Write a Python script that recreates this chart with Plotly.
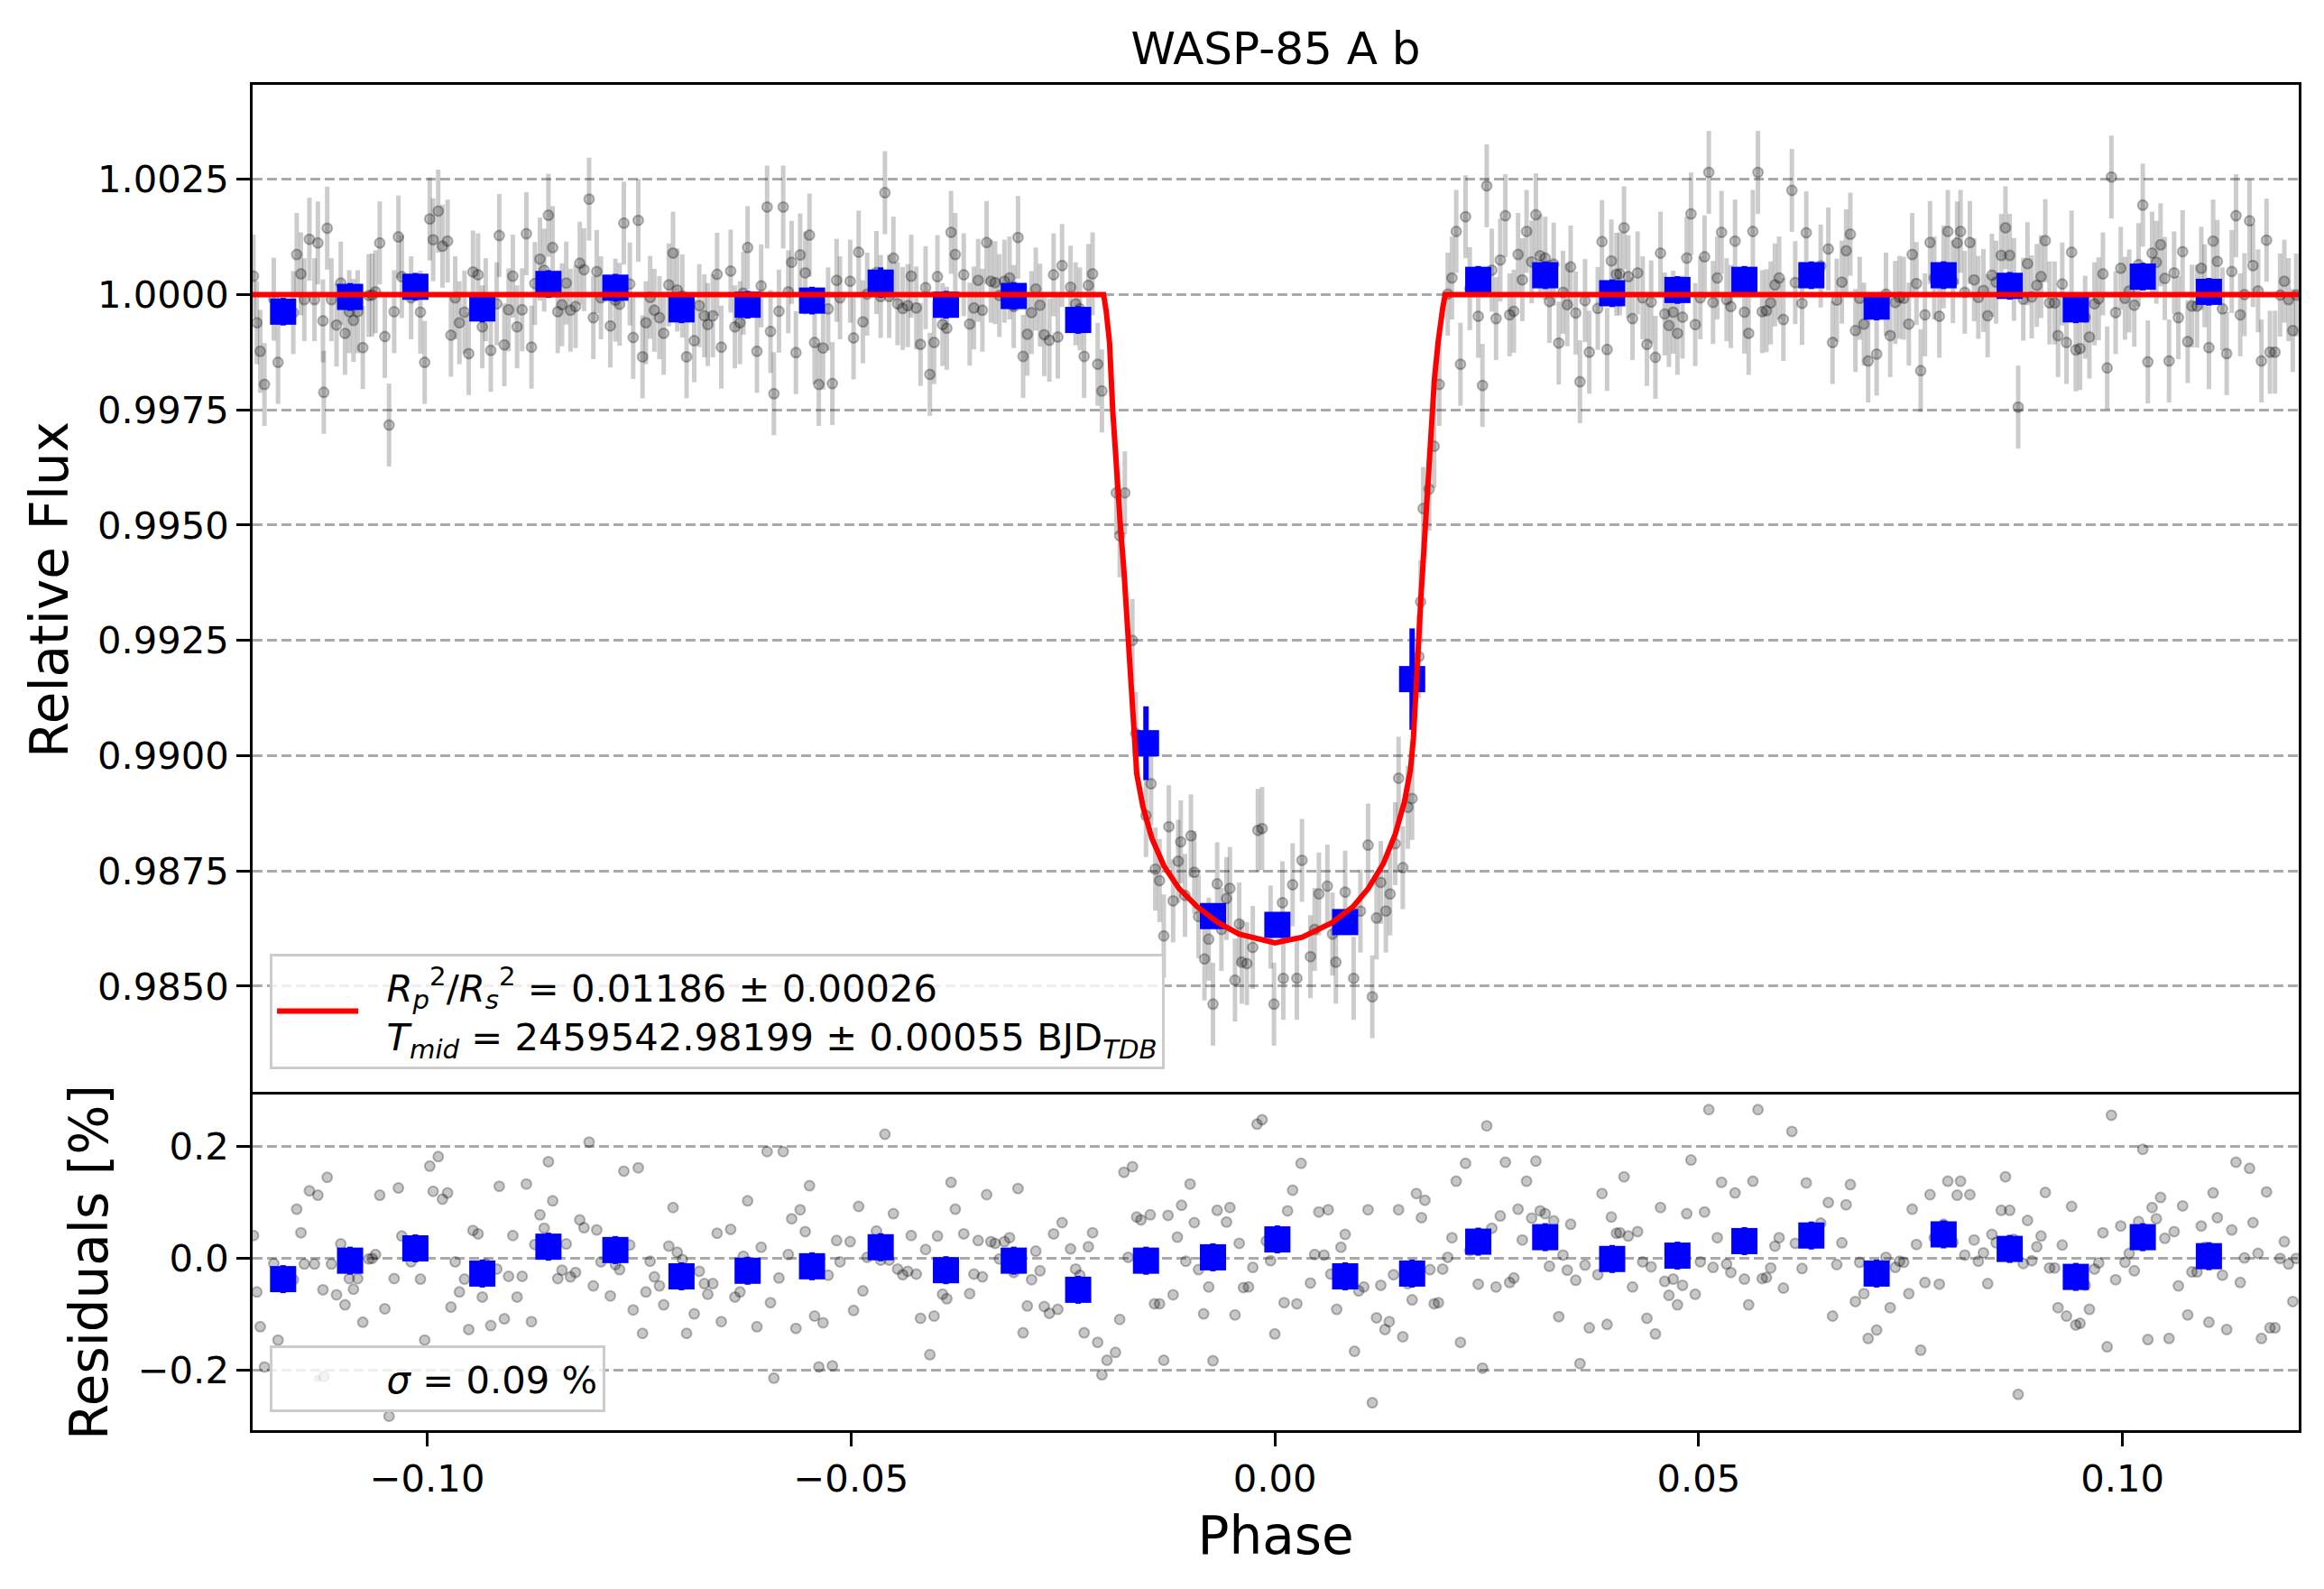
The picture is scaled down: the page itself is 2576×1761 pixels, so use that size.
import numpy as np
import plotly.graph_objects as go
from plotly.subplots import make_subplots

# ---- residuals of every exposure (phase, residual in %) ----
phase_a = [-0.1205, -0.1201, -0.1197, -0.1192, -0.1181, -0.1176, -0.1158, -0.1154, -0.1149, -0.1145,
           -0.1139, -0.1133, -0.1129, -0.1123, -0.1122, -0.1118, -0.1113, -0.1107, -0.1102, -0.1097,
           -0.1092, -0.1087, -0.1082, -0.1076, -0.1069, -0.1065, -0.1061, -0.1056, -0.1050, -0.1045,
           -0.1039, -0.1034, -0.1030, -0.1019, -0.1008, -0.1003, -0.0997, -0.0993, -0.0987, -0.0982,
           -0.0976, -0.0972, -0.0967, -0.0962, -0.0956, -0.0951, -0.0946, -0.0940, -0.0935, -0.0931,
           -0.0925, -0.0918, -0.0915, -0.0909, -0.0904, -0.0899, -0.0894, -0.0888, -0.0883, -0.0877,
           -0.0873, -0.0867, -0.0862, -0.0857, -0.0852, -0.0846, -0.0841, -0.0836, -0.0831, -0.0825,
           -0.0820, -0.0815, -0.0809, -0.0804, -0.0800, -0.0795, -0.0784, -0.0778, -0.0773, -0.0768,
           -0.0761, -0.0757, -0.0751, -0.0746, -0.0742, -0.0737, -0.0732, -0.0726, -0.0721, -0.0715,
           -0.0710, -0.0705, -0.0699, -0.0694, -0.0685, -0.0679, -0.0673, -0.0669, -0.0663, -0.0658,
           -0.0653, -0.0642, -0.0637, -0.0631, -0.0627, -0.0622, -0.0611, -0.0606]
resid_a = [0.040, -0.061, -0.123, -0.195, -0.010, -0.147, -0.039, 0.087, 0.045, -0.011,
           0.120, -0.011, 0.112, -0.057, -0.212, 0.144, -0.011, -0.066, 0.025, -0.084,
           -0.037, -0.056, -0.037, -0.115, -0.002, -0.001, 0.006, 0.112, -0.091, -0.283,
           -0.037, 0.125, 0.039, -0.007, -0.038, -0.147, 0.164, 0.119, 0.181, 0.105,
           0.116, -0.088, -0.007, -0.061, -0.038, -0.128, 0.049, 0.043, -0.070, -0.011,
           -0.121, -0.020, 0.128, -0.109, -0.033, 0.040, -0.070, -0.033, 0.132, -0.114,
           0.024, 0.077, 0.053, 0.172, 0.102, -0.037, -0.022, 0.025, -0.034, -0.026,
           0.068, 0.054, 0.207, -0.050, 0.050, -0.007, -0.068, -0.012, -0.021, 0.155,
           0.023, -0.093, 0.161, -0.135, -0.061, -0.006, -0.034, -0.050, -0.084, 0.021,
           0.090, 0.010, -0.003, -0.135, -0.100, -0.024, -0.046, -0.065, -0.046, 0.044,
           -0.114, 0.051, -0.070, -0.061, 0.003, 0.102, -0.123, 0.019]

phase_b = [-0.0599, -0.0595, -0.0591, -0.0585, -0.0580, -0.0574, -0.0570, -0.0565, -0.0560, -0.0554,
           -0.0549, -0.0543, -0.0538, -0.0533, -0.0527, -0.0522, -0.0517, -0.0513, -0.0501, -0.0497,
           -0.0491, -0.0486, -0.0481, -0.0470, -0.0465, -0.0460, -0.0455, -0.0450, -0.0445, -0.0439,
           -0.0433, -0.0429, -0.0423, -0.0418, -0.0412, -0.0407, -0.0402, -0.0398, -0.0392, -0.0387,
           -0.0382, -0.0377, -0.0367, -0.0360, -0.0355, -0.0350, -0.0345, -0.0340, -0.0335, -0.0330,
           -0.0325, -0.0319, -0.0313, -0.0308, -0.0303, -0.0297, -0.0292, -0.0287, -0.0282, -0.0277,
           -0.0272, -0.0266, -0.0261, -0.0256, -0.0251, -0.0241, -0.0235, -0.0230, -0.0225, -0.0220,
           -0.0215, -0.0209, -0.0204, -0.0198, -0.0188, -0.0183, -0.0178, -0.0173, -0.0168, -0.0163,
           -0.0158, -0.0152, -0.0147, -0.0142, -0.0136, -0.0131, -0.0126, -0.0120, -0.0115, -0.0110,
           -0.0105, -0.0100, -0.0095, -0.0090, -0.0084, -0.0078, -0.0073, -0.0068, -0.0057, -0.0053,
           -0.0047, -0.0042, -0.0037, -0.0031, -0.0026, -0.0021, -0.0015, -0.0010, -0.0005, 0.0000]
resid_b = [0.190, -0.080, -0.215, -0.036, 0.190, 0.006, 0.070, -0.126, 0.086, 0.047,
           0.129, -0.104, -0.195, -0.116, -0.031, -0.193, 0.031, -0.007, 0.029, -0.094,
           0.092, -0.059, 0.001, 0.048, -0.004, 0.221, -0.004, 0.079, -0.020, -0.030,
           -0.024, 0.040, -0.029, -0.108, 0.015, -0.173, -0.104, 0.039, -0.065, -0.073,
           0.135, 0.087, 0.043, -0.064, -0.029, 0.031, -0.034, 0.113, 0.029, 0.026,
           -0.002, 0.029, 0.036, -0.026, 0.124, -0.134, -0.086, -0.039, 0.012, -0.023,
           -0.087, -0.099, 0.043, -0.092, 0.063, 0.016, -0.020, -0.031, -0.134, 0.020,
           0.045, -0.151, -0.209, -0.183, -0.169, -0.110, 0.153, 0.001, 0.163, 0.073,
           0.068, -0.020, 0.077, -0.082, -0.082, -0.183, 0.076, -0.066, 0.037, 0.094,
           -0.006, 0.132, 0.063, -0.021, -0.100, -0.052, -0.184, 0.085, 0.064, 0.090,
           -0.102, 0.026, -0.053, -0.052, -0.017, 0.239, 0.247, 0.030, -0.005, -0.136]

phase_c = [0.0011, 0.0015, 0.0021, 0.0026, 0.0031, 0.0042, 0.0047, 0.0052, 0.0058, 0.0063,
           0.0066, 0.0073, 0.0078, 0.0083, 0.0094, 0.0099, 0.0105, 0.0110, 0.0115, 0.0120,
           0.0125, 0.0130, 0.0135, 0.0140, 0.0146, 0.0151, 0.0157, 0.0162, 0.0167, 0.0173,
           0.0177, 0.0183, 0.0188, 0.0193, 0.0198, 0.0204, 0.0209, 0.0214, 0.0219, 0.0225,
           0.0230, 0.0240, 0.0245, 0.0250, 0.0256, 0.0261, 0.0266, 0.0272, 0.0277, 0.0282,
           0.0287, 0.0292, 0.0297, 0.0303, 0.0308, 0.0313, 0.0319, 0.0324, 0.0329, 0.0335,
           0.0340, 0.0345, 0.0349, 0.0355, 0.0360, 0.0366, 0.0371, 0.0381, 0.0386, 0.0392,
           0.0397, 0.0403, 0.0407, 0.0412, 0.0417, 0.0422, 0.0428, 0.0434, 0.0439, 0.0444,
           0.0449, 0.0455, 0.0460, 0.0465, 0.0470, 0.0475, 0.0481, 0.0486, 0.0491, 0.0496,
           0.0502, 0.0507, 0.0512, 0.0517, 0.0522, 0.0527, 0.0533, 0.0538, 0.0543, 0.0554,
           0.0559, 0.0564, 0.0570, 0.0575, 0.0580, 0.0585, 0.0590, 0.0595, 0.0600, 0.0610,
           0.0614]
resid_c = [-0.080, 0.084, 0.121, -0.082, 0.169, -0.045, 0.006, 0.082, 0.005, 0.086,
           -0.029, -0.092, 0.019, 0.042, -0.167, -0.059, -0.052, 0.086, -0.259, -0.107,
           -0.049, -0.128, -0.114, -0.030, 0.086, -0.141, -0.046, -0.075, 0.115, 0.072,
           0.103, -0.021, -0.082, -0.080, -0.020, 0.001, 0.036, 0.137, -0.151, 0.169,
           0.013, -0.047, -0.197, 0.236, 0.053, -0.052, 0.075, 0.171, -0.044, -0.036,
           0.087, 0.032, 0.137, 0.071, 0.173, 0.084, 0.079, -0.015, 0.066, -0.105,
           0.005, -0.022, 0.060, -0.040, -0.189, -0.013, -0.125, -0.030, 0.115, -0.119,
           0.073, 0.044, 0.045, 0.145, 0.039, -0.052, 0.047, -0.007, -0.108, -0.016,
           -0.136, 0.090, -0.042, -0.067, -0.038, -0.084, -0.049, 0.079, 0.175, -0.065,
           -0.007, 0.082, 0.265, -0.017, 0.036, 0.135, -0.011, -0.026, 0.116, -0.038,
           -0.084, 0.137, 0.265, -0.037, -0.035, -0.018, 0.021, 0.036, -0.054, 0.226,
           0.026]

phase_d = [0.0622, 0.0627, 0.0644, 0.0653, 0.0658, 0.0663, 0.0669, 0.0674, 0.0679, 0.0685,
           0.0690, 0.0695, 0.0700, 0.0710, 0.0721, 0.0726, 0.0732, 0.0737, 0.0742, 0.0748,
           0.0752, 0.0757, 0.0762, 0.0767, 0.0773, 0.0778, 0.0784, 0.0789, 0.0794, 0.0800,
           0.0805, 0.0809, 0.0814, 0.0820, 0.0825, 0.0830, 0.0836, 0.0841, 0.0846, 0.0851,
           0.0857, 0.0862, 0.0867, 0.0872, 0.0877, 0.0883, 0.0888, 0.0893, 0.0899, 0.0904,
           0.0909, 0.0914, 0.0920, 0.0924, 0.0929, 0.0934, 0.0940, 0.0945, 0.0950, 0.0956,
           0.0961, 0.0967, 0.0972, 0.0977, 0.0982, 0.0987, 0.0992, 0.0998, 0.1003, 0.1008,
           0.1014, 0.1019, 0.1024, 0.1030, 0.1035, 0.1040, 0.1045, 0.1050, 0.1055, 0.1061,
           0.1066, 0.1071, 0.1077, 0.1082, 0.1088, 0.1093, 0.1097, 0.1102, 0.1107, 0.1112,
           0.1118, 0.1123, 0.1129, 0.1134, 0.1139, 0.1144, 0.1150, 0.1154, 0.1160, 0.1164,
           0.1170, 0.1174, 0.1180, 0.1186, 0.1191, 0.1196, 0.1201, 0.1205]
resid_d = [-0.019, 0.134, 0.062, 0.099, -0.104, -0.012, 0.027, 0.095, 0.131, -0.078,
           -0.008, -0.064, -0.144, -0.129, 0.001, -0.089, -0.017, -0.006, -0.008, -0.064,
           0.087, 0.024, -0.165, -0.044, 0.113, 0.036, -0.047, 0.060, 0.137, 0.028,
           0.112, 0.137, 0.005, 0.113, 0.032, -0.006, 0.009, -0.046, 0.042, 0.027,
           0.085, 0.145, 0.085, 0.033, -0.244, -0.010, 0.067, -0.005, 0.020, 0.039,
           0.117, -0.018, -0.018, -0.089, 0.023, -0.104, 0.092, -0.120, -0.117, -0.049,
           -0.092, -0.020, -0.009, 0.045, -0.159, 0.255, -0.039, 0.057, -0.008, 0.008,
           -0.023, 0.065, 0.194, -0.146, 0.090, 0.070, 0.108, 0.035, -0.144, 0.047,
           -0.050, 0.093, -0.102, -0.025, -0.025, 0.057, 0.019, -0.115, 0.116, 0.072,
           -0.031, -0.128, 0.050, 0.171, -0.044, 0.000, 0.160, 0.063, 0.008, -0.144,
           0.118, -0.125, -0.125, -0.001, 0.029, -0.011, -0.078, -0.001]

# ---- in-transit exposures ----
transit_phase = [-0.0187, -0.0177, -0.0183, -0.0168, -0.0164, -0.0152, -0.0146, -0.0141, -0.0136, -0.0131,
                 -0.0125, -0.0120, -0.0114, -0.0111, -0.0106, -0.0099, -0.0095, -0.0090, -0.0083, -0.0078,
                 -0.0073, -0.0068, -0.0063, -0.0057, -0.0053, -0.0047, -0.0042, -0.0039, -0.0033, -0.0026,
                 -0.0020, -0.0015, -0.0005, -0.0001, 0.0009, 0.0010, 0.0021, 0.0026, 0.0032, 0.0042,
                 0.0047, 0.0052, 0.0062, 0.0068, 0.0072, 0.0083, 0.0093, 0.0101, 0.0110, 0.0115,
                 0.0120, 0.0125, 0.0131, 0.0136, 0.0142, 0.0146, 0.0151, 0.0157, 0.0162, 0.0170,
                 0.0172, 0.0175, 0.0182, 0.0188, 0.0194]
transit_flux = [0.99570, 0.99570, 0.99477, 0.99250, 0.99048, 0.98870, 0.98939, 0.98754, 0.98729, 0.98609,
                0.98846, 0.98685, 0.98771, 0.98813, 0.98697, 0.98826, 0.98747, 0.98651, 0.98559, 0.98602,
                0.98461, 0.98722, 0.98623, 0.98690, 0.98712, 0.98513, 0.98635, 0.98552, 0.98549, 0.98584,
                0.98838, 0.98842, 0.98628, 0.98461, 0.98681, 0.98517, 0.98720, 0.98517, 0.98773, 0.98564,
                0.98623, 0.98700, 0.98717, 0.98613, 0.98552, 0.98704, 0.98517, 0.98663, 0.98806, 0.98477,
                0.98648, 0.98725, 0.98663, 0.98700, 0.98809, 0.98951, 0.98757, 0.98888, 0.98907, 0.99215,
                0.99334, 0.99536, 0.99578, 0.99671, 0.99805]
flux_err = 0.0009          # typical per-exposure uncertainty
transit_half = 0.0201      # phase of first / last contact

# ---- best-fit transit model ----
model_phase = [-0.1206, -0.0202, -0.0199, -0.0197, -0.0195, -0.01912, -0.01866, -0.01823, -0.01781, -0.01734,
               -0.01699, -0.01663, -0.01628, -0.01557, -0.01451, -0.01309, -0.01131, -0.00919, -0.00670, -0.00422,
               -0.00138, 0.0, 0.00323, 0.00677, 0.00926, 0.01103, 0.01281, 0.01423, 0.01529, 0.01600,
               0.01635, 0.01671, 0.01724, 0.01777, 0.01830, 0.01883, 0.01926, 0.0195, 0.0198, 0.0201, 0.1208]
model_flux = [1.0, 1.0, 0.99965, 0.99935, 0.99896, 0.99748, 0.99600, 0.99501, 0.99403, 0.99255,
              0.99136, 0.99028, 0.98959, 0.98890, 0.98821, 0.98761, 0.98712, 0.98673, 0.98638, 0.98613,
              0.98599, 0.98594, 0.98606, 0.98638, 0.98673, 0.98712, 0.98766, 0.98831, 0.98900, 0.98969,
              0.99038, 0.99186, 0.99344, 0.99501, 0.99659, 0.99817, 0.99896, 0.99935, 0.99970, 1.0, 1.0]

# ---- binned data ----
bin_phase = [-0.1170, -0.1091, -0.1014, -0.0935, -0.0857, -0.0778, -0.0700, -0.0622, -0.0546, -0.0465,
             -0.0388, -0.0308, -0.0232, -0.0152, -0.0073, 0.0003, 0.0083, 0.0162, 0.0240, 0.0319,
             0.0398, 0.0475, 0.0554, 0.0633, 0.0710, 0.0789, 0.0867, 0.0945, 0.1024, 0.1102]
bin_flux = [0.99963, 0.99995, 1.00017, 0.99970, 1.00023, 1.00015, 0.99968, 0.99978, 0.99987, 1.00026,
            0.99978, 0.99997, 0.99945, 0.99027, 0.98652, 0.98633, 0.98639, 0.99166, 1.00032, 1.00042,
            1.00003, 1.00010, 1.00032, 1.00042, 0.99974, 1.00042, 1.00019, 0.99968, 1.00039, 1.00006]
bin_flux_err = [0.0003, 0.0003, 0.0003, 0.0003, 0.0003, 0.0003, 0.0003, 0.0003, 0.0003, 0.00033,
                0.0003, 0.0003, 0.0003, 0.0008, 0.00025, 0.00025, 0.00025, 0.0011, 0.0003, 0.0003,
                0.0003, 0.0003, 0.0003, 0.0003, 0.0003, 0.0003, 0.0003, 0.0003, 0.0003, 0.0003]
bin_resid = [-0.038, -0.005, 0.017, -0.028, 0.020, 0.014, -0.033, -0.023, -0.015, 0.019,
             -0.022, -0.005, -0.057, -0.005, 0.001, 0.033, -0.033, -0.028, 0.029, 0.037,
             -0.002, 0.004, 0.030, 0.040, -0.028, 0.042, 0.016, -0.034, 0.037, 0.003]
bin_resid_err = 0.025

flux_ticks = [0.9850, 0.9875, 0.9900, 0.9925, 0.9950, 0.9975, 1.0000, 1.0025]
resid_ticks = [-0.2, 0.0, 0.2]
phase_ticks = [-0.10, -0.05, 0.00, 0.05, 0.10]

pad = "&nbsp;&nbsp;"
rp_label = pad + "<i>R</i><sub><i>p</i></sub><sup>2</sup>/<i>R</i><sub><i>s</i></sub><sup>2</sup> = 0.01186 ± 0.00026"
tmid_label = pad + "<i>T</i><sub><i>mid</i></sub> = 2459542.98199 ± 0.00055 BJD<sub><i>TDB</i></sub>"
sigma_label = pad + "<i>σ</i> = 0.09 %"

phase = np.array(phase_a + phase_b + phase_c + phase_d)
resid = np.array(resid_a + resid_b + resid_c + resid_d)

# out of transit the model is flat at 1, so flux = 1 + residual
oot = np.abs(phase) >= transit_half
top_phase = np.concatenate([phase[oot], transit_phase])
top_flux = np.concatenate([1.0 + resid[oot] / 100.0, transit_flux])

FONT = "DejaVu Sans"
gray_fill = "rgba(0,0,0,0.22)"
gray_edge = "rgba(0,0,0,0.27)"

# the page body adds an 8px margin, so the figure is 8px smaller than the window
W, H = 2568, 1753

fig = make_subplots(rows=2, cols=1, shared_xaxes=True, row_heights=[0.7505, 0.2495],
                    vertical_spacing=0)

# upper panel
fig.add_trace(go.Scatter(
    x=top_phase, y=top_flux, mode="markers",
    marker=dict(size=11, color=gray_fill, line=dict(color=gray_edge, width=2)),
    error_y=dict(type="constant", value=flux_err, color="rgba(0,0,0,0.2)", thickness=5, width=0),
    showlegend=False, hoverinfo="skip"), row=1, col=1)

fig.add_trace(go.Scatter(
    x=bin_phase, y=bin_flux, mode="markers",
    marker=dict(symbol="square", size=29, color="blue", line=dict(width=0)),
    error_y=dict(type="data", array=bin_flux_err, color="blue", thickness=6, width=0),
    showlegend=False), row=1, col=1)

fig.add_trace(go.Scatter(
    x=model_phase, y=model_flux, mode="lines",
    line=dict(color="red", width=6),
    name=rp_label + "<br>" + tmid_label, legend="legend"), row=1, col=1)

# lower panel
fig.add_trace(go.Scatter(
    x=phase, y=resid, mode="markers",
    marker=dict(size=11, color=gray_fill, line=dict(color=gray_edge, width=2)),
    showlegend=False, hoverinfo="skip"), row=2, col=1)

fig.add_trace(go.Scatter(
    x=bin_phase, y=bin_resid, mode="markers",
    marker=dict(symbol="square", size=29, color="blue", line=dict(width=0)),
    error_y=dict(type="constant", value=bin_resid_err, color="blue", thickness=6, width=0),
    showlegend=False), row=2, col=1)

# legend handle for sigma (drawn almost invisible in the original)
fig.add_trace(go.Scatter(
    x=[None], y=[None], mode="markers",
    marker=dict(size=8, color="rgba(0,0,0,0.06)"),
    name=sigma_label, legend="legend2"), row=2, col=1)

axis_common = dict(showline=True, linecolor="black", linewidth=3.3,
                   ticks="outside", ticklen=14.6, tickwidth=3.3, tickcolor="black",
                   tickfont=dict(family=FONT, size=41.7, color="black"), zeroline=False)
grid_style = dict(showgrid=True, gridcolor="#aaaaaa", gridwidth=3, griddash="11px,5px")

fig.update_xaxes(range=[-0.1206, 0.1208], showgrid=False, **axis_common)
# upper panel: only the top frame line, the shared border comes from the lower panel
fig.update_xaxes(showticklabels=False, ticks="", side="top", mirror=False, row=1, col=1)
fig.update_xaxes(tickvals=phase_ticks, tickformat=".2f", mirror=True,
                 title=dict(text="Phase", font=dict(family=FONT, size=58, color="black"), standoff=20),
                 row=2, col=1)

fig.update_yaxes(range=[0.98265, 1.00455], tickvals=flux_ticks, tickformat=".4f", mirror=True,
                 title=dict(text="Relative Flux", font=dict(family=FONT, size=58, color="black"), standoff=14),
                 row=1, col=1, **axis_common, **grid_style)
fig.update_yaxes(range=[-0.308, 0.292], tickvals=resid_ticks, tickformat=".1f", mirror=True,
                 title=dict(text="Residuals [%]", font=dict(family=FONT, size=58, color="black"), standoff=15),
                 row=2, col=1, **axis_common, **grid_style)

legend_common = dict(bgcolor="rgba(255,255,255,0.8)", bordercolor="#cccccc", borderwidth=3,
                     font=dict(family=FONT, size=41.7, color="black"),
                     xanchor="left", yanchor="bottom", itemwidth=90)

fig.update_layout(
    width=W, height=H,
    margin=dict(l=272, r=28, t=86, b=176),
    paper_bgcolor="white", plot_bgcolor="white",
    font=dict(family=FONT, color="black"),
    title=dict(text="WASP-85 A b", x=0.5, xref="paper", xanchor="center",
               y=1 - 45 / H, yref="container", yanchor="middle",
               font=dict(family=FONT, size=50, color="black")),
    legend=dict(x=0.0084, y=0.2685, **legend_common),
    legend2=dict(x=0.0084, y=0.0134, **legend_common),
)

fig.write_html("out.html")
